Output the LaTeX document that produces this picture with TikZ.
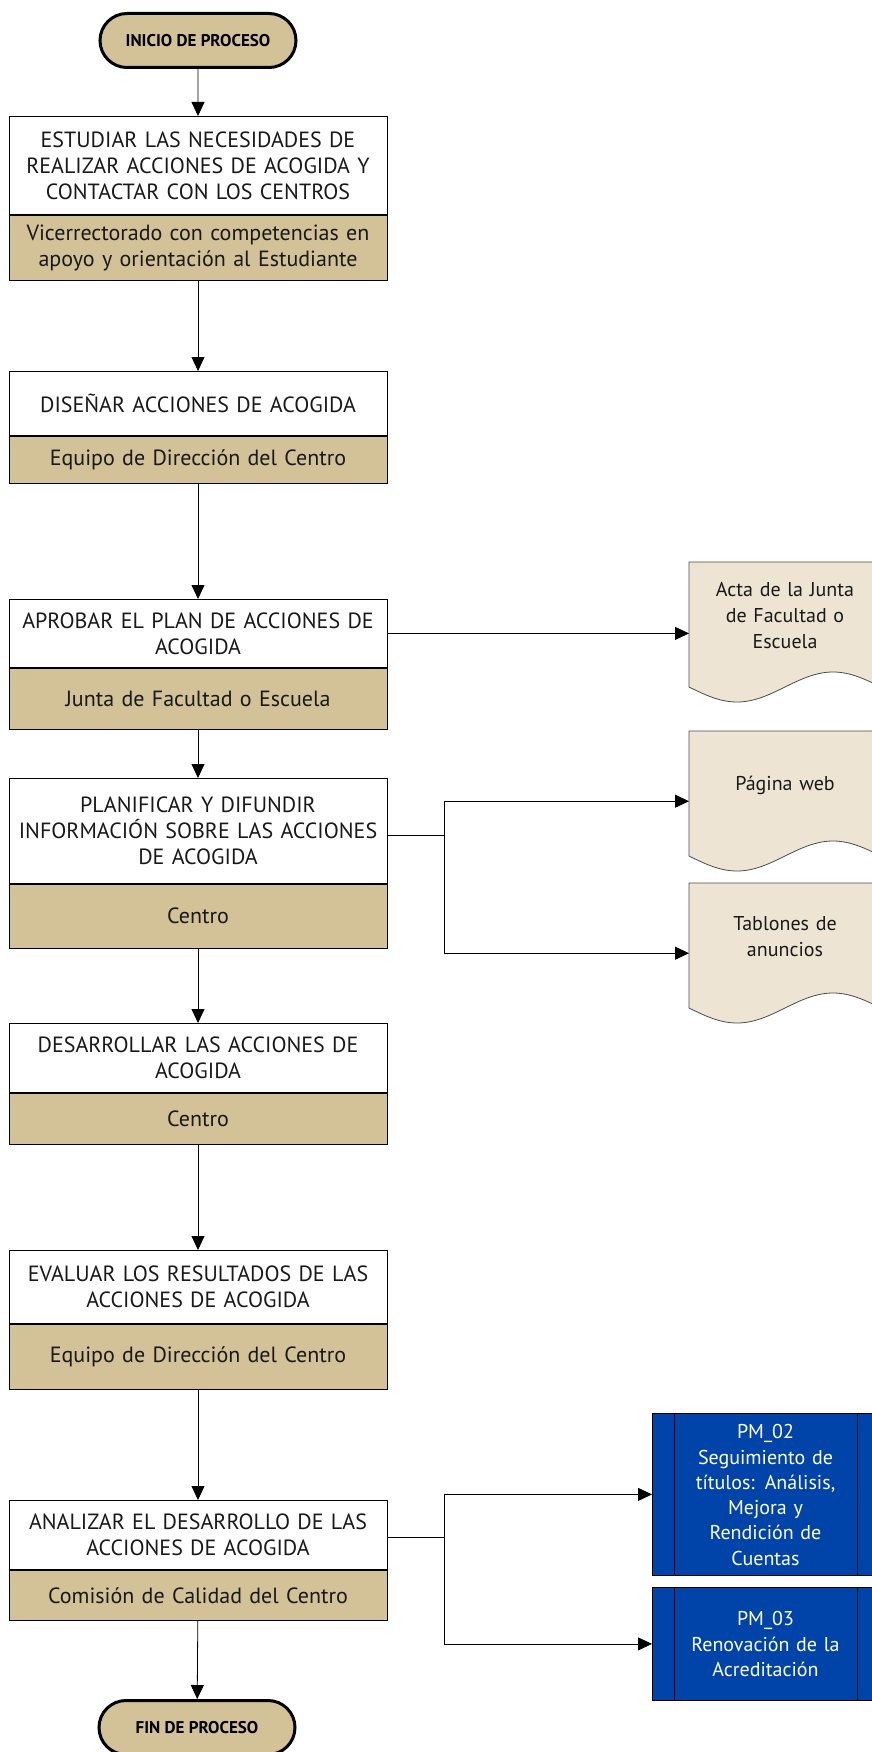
\documentclass[tikz,border=0pt]{standalone}
\usepackage{fontspec}
\setmainfont{PT Sans}
\usetikzlibrary{shapes.misc,arrows.meta}
\definecolor{tanfill}{RGB}{211,193,151}
\definecolor{docfill}{RGB}{237,228,212}
\definecolor{pmblue}{RGB}{0,68,170}
\definecolor{txt}{RGB}{25,25,25}
\newcommand\docshapepath[2]{%
  \draw[docline] (#1,#2) -- (#1,{#2+125}) sin ({#1+48},{#2+140}) cos ({#1+96},{#2+125})
    sin ({#1+144},{#2+110}) cos ({#1+192},{#2+125}) -- ({#1+192},#2) -- cycle;}
\begin{document}
\begin{tikzpicture}[x=1pt,y=-1pt,
  boxtop/.style={draw, line width=0.8pt, fill=white, minimum width=378, text width=374, align=center, inner sep=0pt, anchor=north, text=txt, font=\fontsize{22}{26}\selectfont},
  boxbot/.style={boxtop, fill=tanfill},
  term/.style={rounded rectangle, draw, line width=3pt, fill=tanfill, minimum width=196, minimum height=54, inner sep=0pt, font=\bfseries\fontsize{17}{19}\selectfont},
  docline/.style={draw=black!70, line width=0.8pt, fill=docfill},
  doctext/.style={align=center, text width=180, inner sep=0pt, text=txt, font=\fontsize{20}{26}\selectfont},
  docarea/.style={minimum width=192, minimum height=140, inner sep=0pt, anchor=north west},
  pm/.style={draw, line width=0.8pt, fill=pmblue, minimum width=227, anchor=north west, inner sep=0pt},
  pmtext/.style={text=white, align=center, text width=182, inner sep=0pt, font=\fontsize{20}{25.3}\selectfont},
  conn/.style={line width=0.8pt},
  arr/.style={conn, -{Triangle[width=13pt,length=14pt]}}
]
\useasboundingbox (0,0) rectangle (871,1752);
\fill[white] (0,0) rectangle (871,1752);

% terminators
\node[term] (start) at (198,40.5) {INICIO DE PROCESO};
\node[term] (fin) at (197,1727.5) {FIN DE PROCESO};

% steps
\node[boxtop, minimum height=98] (s1t) at (198,116) {ESTUDIAR LAS NECESIDADES DE\\REALIZAR ACCIONES DE ACOGIDA Y\\CONTACTAR CON LOS CENTROS};
\node[boxbot, minimum height=65] (s1b) at (s1t.south) {Vicerrectorado con competencias en\\apoyo y orientación al Estudiante};

\node[boxtop, minimum height=64] (s2t) at (198,371) {DISEÑAR ACCIONES DE ACOGIDA};
\node[boxbot, minimum height=47] (s2b) at (s2t.south) {Equipo de Dirección del Centro};

\node[boxtop, minimum height=68] (s3t) at (198,599) {APROBAR EL PLAN DE ACCIONES DE\\ACOGIDA};
\node[boxbot, minimum height=61] (s3b) at (s3t.south) {Junta de Facultad o Escuela};

\node[boxtop, minimum height=105] (s4t) at (198,778) {PLANIFICAR Y DIFUNDIR\\INFORMACIÓN SOBRE LAS ACCIONES\\DE ACOGIDA};
\node[boxbot, minimum height=64] (s4b) at (s4t.south) {Centro};

\node[boxtop, minimum height=69] (s5t) at (198,1023) {DESARROLLAR LAS ACCIONES DE\\ACOGIDA};
\node[boxbot, minimum height=51] (s5b) at (s5t.south) {Centro};

\node[boxtop, minimum height=73] (s6t) at (198,1250) {EVALUAR LOS RESULTADOS DE LAS\\ACCIONES DE ACOGIDA};
\node[boxbot, minimum height=65] (s6b) at (s6t.south) {Equipo de Dirección del Centro};

\node[boxtop, minimum height=69] (s7t) at (198,1500) {ANALIZAR EL DESARROLLO DE LAS\\ACCIONES DE ACOGIDA};
\node[boxbot, minimum height=50] (s7b) at (s7t.south) {Comisión de Calidad del Centro};

% documents
\docshapepath{689}{562}
\node[docarea] (d1) at (689,562) {};
\node[doctext] (d1t) at (785,616) {Acta de la Junta\\de Facultad o\\Escuela};

\docshapepath{689}{731}
\node[docarea] (d2) at (689,731) {};
\node[doctext] (d2t) at (785,785) {Página web};

\docshapepath{689}{883}
\node[docarea] (d3) at (689,883) {};
\node[doctext] (d3t) at (785,937) {Tablones de\\anuncios};

% PM boxes
\node[pm, minimum height=162] (pm2) at (652,1413) {};
\draw[line width=0.8pt] ([xshift=22pt]pm2.north west) -- ([xshift=22pt]pm2.south west)
  ([xshift=-22pt]pm2.north east) -- ([xshift=-22pt]pm2.south east);
\node[pmtext] (pm2t) at (765.5,1495) {PM\_02\\Seguimiento de\\títulos: Análisis,\\Mejora y\\Rendición de\\Cuentas};

\node[pm, minimum height=113] (pm3) at (652,1587) {};
\draw[line width=0.8pt] ([xshift=22pt]pm3.north west) -- ([xshift=22pt]pm3.south west)
  ([xshift=-22pt]pm3.north east) -- ([xshift=-22pt]pm3.south east);
\node[pmtext] (pm3t) at (765.5,1644) {PM\_03\\Renovación de la\\Acreditación};

% vertical flow
\draw[arr] (start) -- (s1t);
\draw[arr] (s1b) -- (s2t);
\draw[arr] (s2b) -- (s3t);
\draw[arr] (s3b) -- (s4t);
\draw[arr] (s4b) -- (s5t);
\draw[arr] (s5b) -- (s6t);
\draw[arr] (s6b) -- (s7t);
\draw[arr] (s7b) -- (fin);

% side outputs
\draw[arr] (s3t.east) -- (s3t.east -| d1.west);
\coordinate (j1) at (444,835);
\draw[conn] (s4t.east |- j1) -- (j1);
\draw[arr] (j1) |- (d2.west);
\draw[arr] (j1) |- (d3.west);
\coordinate (j2) at (444,1537);
\draw[conn] (s7t.east |- j2) -- (j2);
\draw[arr] (j2) |- (pm2.west);
\draw[arr] (j2) |- (pm3.west);
\end{tikzpicture}
\end{document}
